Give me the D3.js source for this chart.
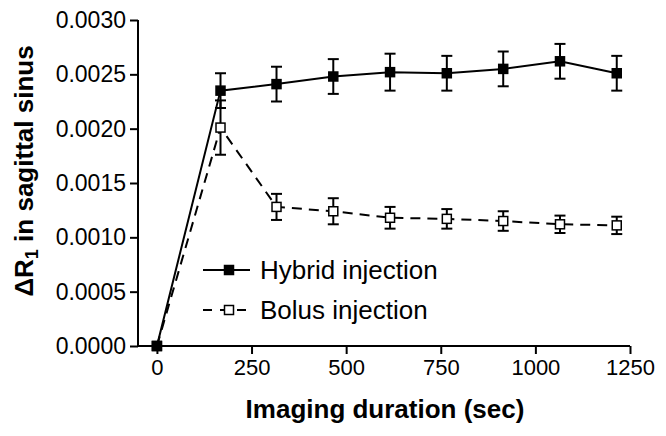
<!DOCTYPE html>
<html><head><meta charset="utf-8">
<script src="https://cdn.jsdelivr.net/npm/d3@7"></script>
<style>body{margin:0;background:#fff}svg{display:block}text{font-family:"Liberation Sans",Arial,sans-serif}</style>
</head><body><svg id="c" width="666" height="436"></svg>
<script>
const time = [0, 168, 316, 466, 616, 766, 915, 1065, 1215];
const hybridMean = [0, 0.00235, 0.00241, 0.00248, 0.00252, 0.00251, 0.00255, 0.00262, 0.00251];
const hybridErr  = [0, 0.00016, 0.00016, 0.00016, 0.00017, 0.00016, 0.00016, 0.00016, 0.00016];
const bolusMean  = [0, 0.00201, 0.00128, 0.00124, 0.00118, 0.00117, 0.00115, 0.00112, 0.00111];
const bolusErr   = [0, 0.00025, 0.00012, 0.00012, 0.0001, 0.00009, 0.00009, 0.00008, 0.00008];
const xTicks = [0, 250, 500, 750, 1000, 1250];
const yTicks = [0, 0.0005, 0.001, 0.0015, 0.002, 0.0025, 0.003];
const seriesNames = ["Hybrid injection", "Bolus injection"];

const svg = d3.select("#c");
const x = d3.scaleLinear().domain([-50, 1250]).range([138, 630]);
const y = d3.scaleLinear().domain([0, 0.003]).range([346, 20]);

const xAxis = svg.append("g").attr("transform", "translate(0,346)")
  .call(d3.axisBottom(x).tickValues(xTicks).tickSize(8).tickPadding(5).tickFormat(d3.format("d")));
const yAxis = svg.append("g").attr("transform", "translate(138,0)")
  .call(d3.axisLeft(y).tickValues(yTicks).tickSize(8).tickPadding(4).tickFormat(d3.format(".4f")));
[xAxis, yAxis].forEach(g => {
  g.select(".domain").attr("stroke", "#000").attr("stroke-width", 2);
  g.selectAll(".tick line").attr("stroke", "#000").attr("stroke-width", 2);
  g.selectAll("text").attr("fill", "#000").style("font-family", "Liberation Sans, Arial, sans-serif");
});
xAxis.selectAll("text").style("font-size", "22px");
yAxis.selectAll("text").style("font-size", "23px");
xAxis.select(".domain").attr("d", `M138,0H630`);
yAxis.select(".domain").attr("d", `M0,20V346`);

const series = [
  {name: seriesNames[0], mean: hybridMean, err: hybridErr, dash: null, fill: "#000"},
  {name: seriesNames[1], mean: bolusMean, err: bolusErr, dash: "10,7", fill: "#fff"}
];
const line = d3.line().x(d => x(d[0])).y(d => y(d[1]));

// draw bolus first, hybrid on top
[series[1], series[0]].forEach(s => {
  const pts = time.map((t, i) => [t, s.mean[i], s.err[i]]);
  const g = svg.append("g");
  g.append("path").datum(pts).attr("d", line).attr("fill", "none")
    .attr("stroke", "#000").attr("stroke-width", 2).attr("stroke-dasharray", s.dash);
  const eb = g.selectAll(".eb").data(pts.filter(p => p[2] > 0)).enter().append("g");
  eb.append("line").attr("x1", p => x(p[0])).attr("x2", p => x(p[0]))
    .attr("y1", p => y(p[1] + p[2])).attr("y2", p => y(p[1] - p[2])).attr("stroke", "#000").attr("stroke-width", 2);
  [1, -1].forEach(sg => {
    eb.append("line").attr("x1", p => x(p[0]) - 5.5).attr("x2", p => x(p[0]) + 5.5)
      .attr("y1", p => y(p[1] + sg * p[2])).attr("y2", p => y(p[1] + sg * p[2])).attr("stroke", "#000").attr("stroke-width", 2);
  });
  g.selectAll(".m").data(pts).enter().append("rect")
    .attr("x", p => x(p[0]) - 4.5).attr("y", p => y(p[1]) - 4.5).attr("width", 9).attr("height", 9)
    .attr("fill", s.fill).attr("stroke", "#000").attr("stroke-width", 1.5);
});

// legend
const leg = svg.append("g");
series.forEach((s, i) => {
  const ly = 270 + i * 40;
  leg.append("line").attr("x1", 203).attr("x2", 250).attr("y1", ly).attr("y2", ly)
    .attr("stroke", "#000").attr("stroke-width", 2).attr("stroke-dasharray", s.dash ? "9,8" : null);
  leg.append("rect").attr("x", 224.5).attr("y", ly - 4.5).attr("width", 9).attr("height", 9)
    .attr("fill", s.fill).attr("stroke", "#000").attr("stroke-width", 1.5);
  leg.append("text").attr("x", 260).attr("y", ly + 9).style("font-size", "26px").text(s.name);
});

// axis titles
svg.append("text").attr("x", 385).attr("y", 418).attr("text-anchor", "middle")
  .style("font-size", "26px").style("font-weight", "bold").text("Imaging duration (sec)");
const yt = svg.append("text").attr("transform", "translate(33,171) rotate(-90)").attr("text-anchor", "middle")
  .style("font-size", "26px").style("font-weight", "bold");
yt.append("tspan").text("ΔR");
yt.append("tspan").attr("dy", 5).style("font-size", "18px").text("1");
yt.append("tspan").attr("dy", -5).text(" in sagittal sinus");
</script></body></html>
